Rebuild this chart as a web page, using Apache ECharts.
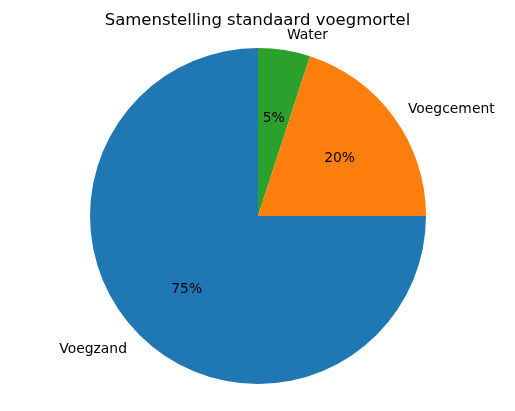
<!DOCTYPE html>
<html><head><meta charset="utf-8">
<script src="https://cdn.jsdelivr.net/npm/echarts@6/dist/echarts.min.js"></script>
<style>html,body{margin:0;padding:0;background:#fff}#c{width:515px;height:411px}</style>
</head><body><div id="c"></div>
<script>
const categories = ['Water', 'Voegcement', 'Voegzand'];
const values = [5, 20, 75];
const colors = ['#2ca02c', '#ff7f0e', '#1f77b4'];
const title = 'Samenstelling standaard voegmortel';

const R = 168;
const total = values.reduce((a, b) => a + b, 0);
let acc = 0;
const mids = values.map(v => { const m = 90 - (acc + v / 2) / total * 360; acc += v; return m; });
const aligns = mids.map(m => Math.cos(m * Math.PI / 180) >= 0 ? 'left' : 'right');
const font = 'DejaVu Sans';

const mainData = categories.map((c, i) => ({ name: c, value: values[i], itemStyle: { color: colors[i] } }));
const pctData = categories.map((c, i) => ({ name: c, value: values[i] }));
const nameData = categories.map((c, i) => ({ name: c, value: values[i] }));

const chart = echarts.init(document.getElementById('c'));
chart.setOption({
  animation: false,
  title: { text: title, left: 'center', top: 7, textStyle: { fontFamily: font, fontSize: 16.5, fontWeight: 'normal', color: '#000' } },
  series: [
    { type: 'pie', center: [258, 216], radius: [0, R], startAngle: 90, clockwise: true,
      data: mainData, label: { show: false }, labelLine: { show: false }, silent: true,
      itemStyle: { borderWidth: 0 } },
    { type: 'pie', center: [258, 216], radius: [0, R * 1.165], startAngle: 90, clockwise: true,
      data: pctData, silent: true, z: 3,
      itemStyle: { color: 'rgba(0,0,0,0)', borderWidth: 0 },
      label: { show: true, position: 'inside', formatter: p => Math.round(p.value / total * 100) + '%',
        fontFamily: font, fontSize: 13.9, color: '#000' },
      labelLayout: { dy: 2 },
      labelLine: { show: false } },
    { type: 'pie', center: [258, 216], radius: [0, R * 2.17], startAngle: 90, clockwise: true,
      data: nameData, silent: true, z: 3,
      itemStyle: { color: 'rgba(0,0,0,0)', borderWidth: 0 },
      label: { show: true, position: 'inside', formatter: '{b}', fontFamily: font, fontSize: 13.9, color: '#000' },
      labelLayout: p => ({ align: aligns[p.dataIndex], verticalAlign: 'middle', dy: 2 }),
      labelLine: { show: false } }
  ]
});
</script></body></html>
